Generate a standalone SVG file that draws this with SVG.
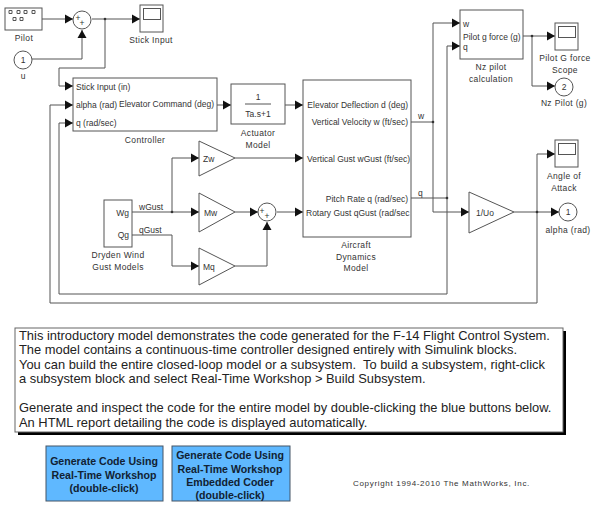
<svg xmlns="http://www.w3.org/2000/svg" width="600" height="508" viewBox="0 0 600 508">
<style>
text{font-family:"Liberation Sans",Arial,sans-serif;font-size:8.5px;fill:#333}
.m{text-anchor:middle}.e{text-anchor:end}
.l{letter-spacing:.35px}
.b{fill:#fff;stroke:#555;stroke-width:1}
.c{fill:none;stroke:#555;stroke-width:1}
.d{fill:#333}
.n{font-size:12.9px;fill:#222}
.bt{font-size:10.6px;font-weight:bold;fill:#123;text-anchor:middle}
</style>
<defs>
<marker id="a" markerUnits="userSpaceOnUse" markerWidth="9" markerHeight="10" refX="8" refY="5" orient="auto"><path d="M0 .5L8 5L0 9.5Z" fill="#111"/></marker>
</defs>
<rect width="600" height="508" fill="#fff"/>
<g id="connectors" class="c">
<path marker-end="url(#a)" d="M42 19H73"/>
<path marker-end="url(#a)" d="M32 59H82V30"/>
<path marker-end="url(#a)" d="M92 19H140"/>
<path marker-end="url(#a)" d="M105 19V68H59V86H73"/>
<path marker-end="url(#a)" d="M537 212V154H555"/>
<path marker-end="url(#a)" d="M537 212V303H50V105H73"/>
<path marker-end="url(#a)" d="M447 198V294H59V123H73"/>
<path marker-end="url(#a)" d="M411 198H447V46H460"/>
<path marker-end="url(#a)" d="M411 122H433V23H460"/>
<path marker-end="url(#a)" d="M433 122V212H469"/>
<path marker-end="url(#a)" d="M514 212H559"/>
<path marker-end="url(#a)" d="M217 105H231"/>
<path marker-end="url(#a)" d="M285 105H303"/>
<path marker-end="url(#a)" d="M235 158H303"/>
<path marker-end="url(#a)" d="M132 212H199"/>
<path marker-end="url(#a)" d="M172 212V158H199"/>
<path marker-end="url(#a)" d="M132 235H172V266H199"/>
<path marker-end="url(#a)" d="M235 212H258"/>
<path marker-end="url(#a)" d="M277 212H303"/>
<path marker-end="url(#a)" d="M235 266H267V222"/>
<path marker-end="url(#a)" d="M523 36H555"/>
<path marker-end="url(#a)" d="M532 36V86H555"/>
</g>
<g id="junctions" class="d">
<circle cx="105" cy="19" r="1.3"/><circle cx="172" cy="212" r="1.3"/><circle cx="433" cy="122" r="1.3"/><circle cx="447" cy="198" r="1.3"/><circle cx="537" cy="212" r="1.3"/><circle cx="532" cy="36" r="1.3"/>
</g>
<g id="signal-labels">
<text x="139" y="210">wGust</text><text x="139" y="233">qGust</text>
<text x="418" y="119">w</text><text x="418" y="196">q</text>
</g>
<g id="pilot"><rect class="b" x="5" y="8" width="37" height="22"/>
<path class="b" d="M9 10.500h3v3h-3zM17 10.500h3v3h-3zM24 10.500h3v3h-3zM32 10.500h3v3h-3zM13 17.500h3v3h-3zM20 17.500h3v3h-3z"/>
<text class="m l" x="24" y="41">Pilot</text></g>
<g id="sum1"><circle class="b" cx="82" cy="20" r="9"/><text class="m" x="78" y="21">+</text><text class="m" x="82" y="26">+</text></g>
<g id="stick-input"><rect class="b" x="140" y="5" width="23" height="27"/><rect class="b" x="143.500" y="8.500" width="17" height="11"/><text class="m l" x="151" y="43">Stick Input</text></g>
<g id="u"><circle class="b" cx="23" cy="60" r="9"/><text class="m" x="23" y="63">1</text><text class="m" x="23" y="79">u</text></g>
<g id="controller"><rect class="b" x="73" y="78" width="144" height="53"/>
<text x="76" y="90">Stick Input (in)</text><text x="76" y="108">alpha (rad)</text><text x="76" y="126">q (rad/sec)</text>
<text class="e" x="214" y="107">Elevator Command (deg)</text><text class="m l" x="145" y="143">Controller</text></g>
<g id="actuator"><rect class="b" x="231" y="84" width="54" height="40"/><path class="c" d="M245 104H271"/><text class="m" x="258" y="100">1</text><text class="m" x="258" y="117">Ta.s+1</text>
<text class="m l" x="258" y="136">Actuator</text><text class="m l" x="258" y="148">Model</text></g>
<g id="aircraft"><rect class="b" x="303" y="80" width="108" height="157"/>
<text class="e" x="408" y="108">Elevator Deflection d (deg)</text>
<text class="e" x="408" y="125">Vertical Velocity w (ft/sec)</text>
<text class="e" x="410" y="162">Vertical Gust wGust (ft/sec)</text>
<text class="e" x="408" y="202">Pitch Rate q (rad/sec)</text>
<text x="306" y="216">Rotary Gust qGust (rad/sec</text>
<text class="m l" x="356" y="248">Aircraft</text><text class="m l" x="356" y="260">Dynamics</text><text class="m l" x="356" y="271">Model</text></g>
<g id="zw"><path class="b" d="M199 141V176L235 158Z"/><text x="203" y="162">Zw</text></g>
<g id="mw"><path class="b" d="M199 193V232L235 212Z"/><text x="204" y="216">Mw</text></g>
<g id="mq"><path class="b" d="M199 248V285L235 266Z"/><text x="203" y="270">Mq</text></g>
<g id="sum2"><circle class="b" cx="267" cy="212" r="9"/><text class="m" x="262" y="214">+</text><text class="m" x="267" y="219">+</text></g>
<g id="dryden"><rect class="b" x="104" y="200" width="28" height="47"/><text class="e" x="129" y="216">Wg</text><text class="e" x="129" y="238">Qg</text>
<text class="m l" x="118" y="258">Dryden Wind</text><text class="m l" x="118" y="270">Gust Models</text></g>
<g id="nz"><rect class="b" x="460" y="10" width="63" height="49"/><text x="463" y="27">w</text><text x="463" y="40">Pilot g force (g)</text><text x="463" y="50">q</text>
<text class="m l" x="491" y="70">Nz pilot</text><text class="m l" x="491" y="82">calculation</text></g>
<g id="pilot-scope"><rect class="b" x="555" y="23" width="23" height="27"/><rect class="b" x="558.500" y="26.500" width="17" height="11"/><text class="m l" x="565" y="61">Pilot G force</text><text class="m l" x="565" y="73">Scope</text></g>
<g id="nz-out"><circle class="b" cx="564" cy="87" r="9"/><text class="m" x="564" y="90">2</text><text class="m l" x="564" y="106">Nz Pilot (g)</text></g>
<g id="angle-scope"><rect class="b" x="555" y="140" width="23" height="27"/><rect class="b" x="558.500" y="143.500" width="17" height="11"/><text class="m l" x="564" y="179">Angle of</text><text class="m l" x="564" y="191">Attack</text></g>
<g id="uo"><path class="b" d="M469 192V233L514 212Z"/><text x="476" y="216">1/Uo</text></g>
<g id="alpha-out"><circle class="b" cx="568" cy="212" r="9"/><text class="m" x="568" y="215">1</text><text class="m l" x="568" y="233">alpha (rad)</text></g>
<g id="note"><rect x="18" y="331" width="548" height="104" fill="#000"/><rect x="15" y="328" width="548" height="104" fill="#fff" stroke="#666"/>
<text class="n" x="19" y="340">This introductory model demonstrates the code generated for the F-14 Flight Control System.</text>
<text class="n" x="19" y="354">The model contains a continuous-time controller designed entirely with Simulink blocks.</text>
<text class="n" x="19" y="369" xml:space="preserve">You can build the entire closed-loop model or a subsystem.  To build a subsystem, right-click</text>
<text class="n" x="19" y="383">a subsystem block and select Real-Time Workshop &gt; Build Subsystem.</text>
<text class="n" x="19" y="412">Generate and inspect the code for the entire model by double-clicking the blue buttons below.</text>
<text class="n" x="19" y="427">An HTML report detailing the code is displayed automatically.</text></g>
<g id="button-rtw"><rect x="46" y="446" width="117" height="55" fill="#5fb8ff" stroke="#456"/><text class="bt" x="104" y="465">Generate Code Using</text><text class="bt" x="104" y="479">Real-Time Workshop</text><text class="bt" x="104" y="492">(double-click)</text></g>
<g id="button-ec"><rect x="172" y="446" width="118" height="55" fill="#5fb8ff" stroke="#456"/><text class="bt" x="230" y="459">Generate Code Using</text><text class="bt" x="230" y="473">Real-Time Workshop</text><text class="bt" x="230" y="486">Embedded Coder</text><text class="bt" x="230" y="499">(double-click)</text></g>
<text x="353" y="486" style="font-size:8px;letter-spacing:.68px">Copyright 1994-2010 The MathWorks, Inc.</text>
</svg>
